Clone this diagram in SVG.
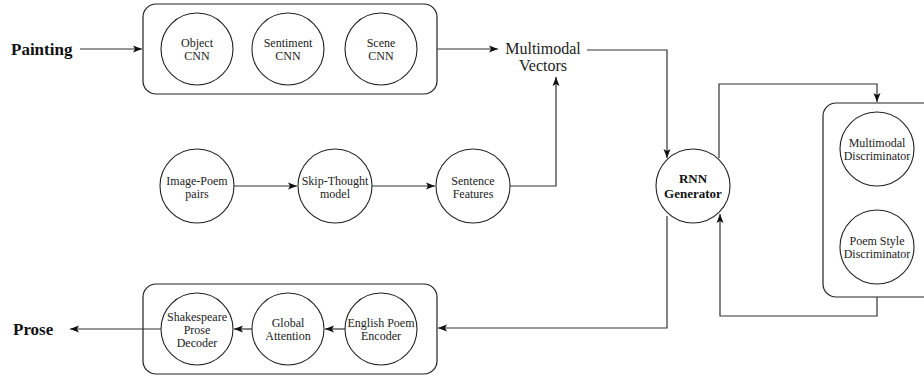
<svg xmlns="http://www.w3.org/2000/svg" width="924" height="377" viewBox="0 0 924 377">
<defs>
<marker id="ah" markerWidth="10" markerHeight="8" refX="9" refY="4" orient="auto" markerUnits="userSpaceOnUse">
<path d="M0,0.5 L9,4 L0,7.5 L2,4 Z" fill="#111"/>
</marker>
<style>
.box{fill:none;stroke:#222;stroke-width:1.2}
.c{fill:#fff;stroke:#222;stroke-width:1.1}
.t{font-family:"Liberation Serif",serif;font-size:12px;fill:#222;text-anchor:middle}
.b{font-family:"Liberation Serif",serif;font-weight:bold;fill:#111}
.ln{fill:none;stroke:#333;stroke-width:1.2}
</style>
</defs>
<rect width="924" height="377" fill="#fff"/>
<g id="painting"><text class="b" x="11" y="55" font-size="17">Painting</text></g>
<g id="cnn-box"><rect class="box" x="143" y="4" width="294" height="90" rx="13"/></g>
<g id="object-cnn"><circle class="c" cx="197" cy="49" r="36"/><text class="t" x="197" y="47">Object</text><text class="t" x="197" y="60">CNN</text></g>
<g id="sentiment-cnn"><circle class="c" cx="288" cy="49" r="36"/><text class="t" x="288" y="47">Sentiment</text><text class="t" x="288" y="60">CNN</text></g>
<g id="scene-cnn"><circle class="c" cx="381" cy="49" r="36"/><text class="t" x="381" y="47">Scene</text><text class="t" x="381" y="60">CNN</text></g>
<g id="multimodal-vectors"><text x="543" y="54" font-family="Liberation Serif,serif" font-size="16" fill="#222" text-anchor="middle">Multimodal</text><text x="543" y="71" font-family="Liberation Serif,serif" font-size="16" fill="#222" text-anchor="middle">Vectors</text></g>
<g id="image-poem"><circle class="c" cx="197" cy="186" r="37"/><text class="t" x="197" y="185">Image-Poem</text><text class="t" x="197" y="198">pairs</text></g>
<g id="skip-thought"><circle class="c" cx="335" cy="186" r="37"/><text class="t" x="335" y="185">Skip-Thought</text><text class="t" x="335" y="198">model</text></g>
<g id="sentence-features"><circle class="c" cx="473" cy="186" r="37"/><text class="t" x="473" y="185">Sentence</text><text class="t" x="473" y="198">Features</text></g>
<g id="rnn-generator"><circle class="c" cx="693" cy="186" r="37"/><text class="b" x="693" y="183" font-size="13" text-anchor="middle">RNN</text><text class="b" x="693" y="198" font-size="13" text-anchor="middle">Generator</text></g>
<g id="disc-box"><rect class="box" x="823" y="103" width="120" height="194" rx="13"/></g>
<g id="multimodal-disc"><circle class="c" cx="877" cy="149" r="37"/><text class="t" x="877" y="147" font-size="11.5">Multimodal</text><text class="t" x="877" y="160" font-size="11.5">Discriminator</text></g>
<g id="poem-style-disc"><circle class="c" cx="877" cy="247" r="37"/><text class="t" x="877" y="245" font-size="11.5">Poem Style</text><text class="t" x="877" y="258" font-size="11.5">Discriminator</text></g>
<g id="prose-box"><rect class="box" x="143" y="284" width="294" height="90" rx="13"/></g>
<g id="shakespeare"><circle class="c" cx="197" cy="329" r="36"/><text class="t" x="197" y="321" font-size="11.5">Shakespeare</text><text class="t" x="197" y="334" font-size="11.5">Prose</text><text class="t" x="197" y="347" font-size="11.5">Decoder</text></g>
<g id="global-attention"><circle class="c" cx="288" cy="329" r="36"/><text class="t" x="288" y="327" font-size="12.5">Global</text><text class="t" x="288" y="340" font-size="12.5">Attention</text></g>
<g id="english-poem"><circle class="c" cx="381" cy="329" r="36"/><text class="t" x="381" y="327" font-size="11.5">English Poem</text><text class="t" x="381" y="340" font-size="11.5">Encoder</text></g>
<g id="prose"><text class="b" x="13" y="335" font-size="17">Prose</text></g>
<g id="connectors">
<path class="ln" d="M80,49 H142" marker-end="url(#ah)"/>
<path class="ln" d="M437,49 H498" marker-end="url(#ah)"/>
<path class="ln" d="M587,50 H667 V158" marker-end="url(#ah)"/>
<path class="ln" d="M510,186 H556 V77" marker-end="url(#ah)"/>
<path class="ln" d="M234,186 H297" marker-end="url(#ah)"/>
<path class="ln" d="M372,186 H435" marker-end="url(#ah)"/>
<path class="ln" d="M719,158 V84 H877 V102" marker-end="url(#ah)"/>
<path class="ln" d="M877,297 V316 H720 V214" marker-end="url(#ah)"/>
<path class="ln" d="M667,216 V328 H438" marker-end="url(#ah)"/>
<path class="ln" d="M345,329 H325" marker-end="url(#ah)"/>
<path class="ln" d="M252,329 H234" marker-end="url(#ah)"/>
<path class="ln" d="M161,329 H70" marker-end="url(#ah)"/>
</g>
</svg>
